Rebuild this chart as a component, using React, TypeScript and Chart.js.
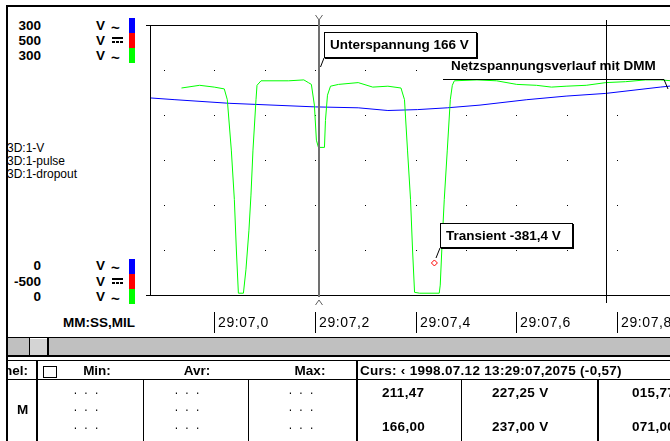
import React, { useEffect, useRef } from "react";
import { Chart, registerables } from "chart.js";
Chart.register(...registerables);

// ---- data (time in seconds within minute 13:29, values in V) ----
const greenTimes = [6.935, 6.971, 7.0, 7.02, 7.026, 7.034, 7.04, 7.044, 7.048, 7.058, 7.063, 7.069, 7.073, 7.077, 7.083, 7.085, 7.093, 7.148, 7.178, 7.187, 7.193, 7.199, 7.203, 7.207, 7.219, 7.221, 7.225, 7.231, 7.247, 7.286, 7.315, 7.345, 7.371, 7.378, 7.384, 7.39, 7.394, 7.398, 7.408, 7.447, 7.449, 7.453, 7.457, 7.463, 7.469, 7.473, 7.477, 7.522, 7.561, 7.601, 7.64, 7.67, 7.699, 7.739, 7.778, 7.817, 7.857, 7.886, 7.955];
const greenValues = [230, 233, 231, 229, 217, 161, 106, 50, 2, 2, 28, 72, 111, 161, 217, 233, 238, 238, 239, 236, 234, 211, 172, 164, 164, 194, 222, 232, 234, 236, 231, 232, 230, 217, 161, 106, 50, 3, 2, 2, 11, 61, 106, 161, 217, 233, 238, 239, 238, 234, 233, 231, 232, 233, 236, 237, 239, 239, 236];
const blueTimes = [6.872, 6.922, 7.03, 7.201, 7.286, 7.345, 7.404, 7.463, 7.528, 7.621, 7.699, 7.778, 7.886, 7.955];
const blueValues = [219, 217, 213, 209, 208, 205, 206, 208, 211, 217, 221, 224, 231, 235];
const pulseTimes = [7.4374];
const pulseValues = [-381.4];

const gridTimes = [6.9, 7.0, 7.1, 7.2, 7.3, 7.4, 7.5, 7.6, 7.7, 7.8];
const gridValues = [50, 100, 150, 200, 250];
const tickTimes = [7.0, 7.2, 7.4, 7.6, 7.8];
const tickLabels = ["29:07,0", "29:07,2", "29:07,4", "29:07,6", "29:07,8"];
const cursorTime = 7.2075;
const cursor2Time = 7.778;
const X_MIN = 6.87244;
const X_MAX = 7.9551;

const FONT = "'Liberation Sans', Arial, sans-serif";
const OX = 140;
const OY = 8;

type TP = { x: number; y: number; children: React.ReactNode; size?: number; bold?: boolean; align?: "left" | "right" | "center"; ls?: number };
function Txt({ x, y, children, size = 13.5, bold = true, align = "left", ls = 0 }: TP) {
  const tx = align === "left" ? "0" : align === "right" ? "-100%" : "-50%";
  return (
    <div style={{ position: "absolute", left: x, top: y, transform: `translate(${tx},-50%)`, fontFamily: FONT, fontSize: size, fontWeight: bold ? 700 : 400, whiteSpace: "nowrap", lineHeight: 1, letterSpacing: ls, color: "#000" }}>
      {children}
    </div>
  );
}
function R({ x, y, w, h, bg = "#000" }: { x: number; y: number; w: number; h: number; bg?: string }) {
  return <div style={{ position: "absolute", left: x, top: y, width: w, height: h, background: bg }} />;
}
function DC({ x, y }: { x: number; y: number }) {
  return (
    <>
      <R x={x} y={y} w={11} h={2} />
      <R x={x} y={y + 4} w={3} h={2} />
      <R x={x + 4} y={y + 4} w={3} h={2} />
      <R x={x + 8} y={y + 4} w={3} h={2} />
    </>
  );
}

export default function App() {
  const ref = useRef<HTMLCanvasElement>(null);
  useEffect(() => {
    const canvas = ref.current!;
    const overlay = {
      id: "overlay",
      beforeDatasetsDraw(chart: any) {
        const ctx = chart.ctx;
        const xs = chart.scales.x, ys = chart.scales.y;
        ctx.save();
        ctx.translate(-OX, -OY);
        ctx.fillStyle = "#000";
        for (const t of gridTimes) for (const v of gridValues) {
          ctx.fillRect(Math.round(xs.getPixelForValue(t) + OX), Math.round(ys.getPixelForValue(v) + OY), 1, 1);
        }
        ctx.restore();
      },
      afterDatasetsDraw(chart: any) {
        const ctx = chart.ctx;
        const xs = chart.scales.x, ys2 = chart.scales.y2;
        const a = chart.chartArea;
        const L = a.left + OX, T = a.top + OY, B = a.bottom + OY;
        ctx.save();
        ctx.translate(-OX, -OY);
        const line = (x1: number, y1: number, x2: number, y2: number, c = "#000", w = 1) => {
          ctx.strokeStyle = c; ctx.lineWidth = w; ctx.beginPath(); ctx.moveTo(x1, y1); ctx.lineTo(x2, y2); ctx.stroke();
        };
        // frame
        line(L - 4, T + 0.5, 700, T + 0.5);
        line(L - 4, B + 0.5, 700, B + 0.5);
        line(L + 0.5, T, L + 0.5, B);
        // second cursor
        const c2 = Math.round(xs.getPixelForValue(cursor2Time) + OX) + 0.5;
        line(c2, 20, c2, 303);
        // cursor
        const cx = Math.round(xs.getPixelForValue(cursorTime) + OX);
        line(cx, 20, cx, 297, "#707070", 2);
        line(cx - 3.5, 15, cx, 20, "#606060");
        line(cx + 3.5, 15, cx, 20, "#606060");
        line(cx - 3.5, 305, cx, 300, "#606060");
        line(cx + 3.5, 305, cx, 300, "#606060");
        // ticks
        ctx.font = `14px ${FONT}`;
        (ctx as any).letterSpacing = "0.6px";
        ctx.textBaseline = "middle";
        ctx.fillStyle = "#000";
        tickTimes.forEach((t, i) => {
          const x = Math.round(xs.getPixelForValue(t) + OX) + 0.5;
          line(x, 312, x, 333);
          ctx.fillText(tickLabels[i], x + 3.5, 323);
        });
        (ctx as any).letterSpacing = "0px";
        const box = (x: number, y: number, w: number, h: number, text: string) => {
          ctx.fillStyle = "#fff";
          ctx.fillRect(x, y, w, h);
          ctx.strokeStyle = "#000"; ctx.lineWidth = 1;
          ctx.strokeRect(x + 0.5, y + 0.5, w - 1, h - 1);
          line(x + w + 0.5, y + 1, x + w + 0.5, y + h + 1);
          line(x + 1, y + h + 0.5, x + w + 1, y + h + 0.5);
          ctx.fillStyle = "#000";
          ctx.font = `bold 13.5px ${FONT}`;
          ctx.textBaseline = "middle";
          ctx.fillText(text, x + 6, y + h / 2 + 0.5);
        };
        // Unterspannung annotation
        box(cx + 5, 32, 153, 26, "Unterspannung 166 V");
        line(cx + 5, 58, cx + 1.5, 67);
        // Transient annotation
        const ppx = Math.round(xs.getPixelForValue(pulseTimes[0]) + OX);
        const ppy = Math.round(ys2.getPixelForValue(pulseValues[0]) + OY);
        box(ppx + 6, ppy - 40, 133, 25, "Transient -381,4 V");
        line(ppx + 6, ppy - 15, ppx + 2, ppy - 5);
        // Netzspannung annotation
        ctx.fillStyle = "#000";
        ctx.font = `bold 13.5px ${FONT}`;
        ctx.textBaseline = "middle";
        ctx.fillText("Netzspannungsverlauf mit DMM", 451, 66);
        line(443, 79.5, 664, 79.5);
        line(664, 79.5, 668, 89);
        ctx.restore();
      },
    };
    const chart = new Chart(canvas, {
      type: "line",
      data: {
        datasets: [
          { label: "3D:1-pulse", data: pulseTimes.map((t, i) => ({ x: t, y: pulseValues[i] })), yAxisID: "y2", showLine: false, pointStyle: "rectRot", pointRadius: 3, borderColor: "#ff0000", backgroundColor: "rgba(0,0,0,0)", borderWidth: 1, order: -1 } as any,
          { label: "3D:1-dropout", data: greenTimes.map((t, i) => ({ x: t, y: greenValues[i] })), yAxisID: "y", borderColor: "#00ff00", borderWidth: 1, pointRadius: 0, tension: 0, fill: false, order: 0 },
          { label: "3D:1-V", data: blueTimes.map((t, i) => ({ x: t, y: blueValues[i] })), yAxisID: "y", borderColor: "#0000ff", borderWidth: 1, pointRadius: 0, tension: 0, fill: false, order: 1 },
        ],
      },
      options: {
        responsive: false,
        animation: false,
        devicePixelRatio: 1,
        events: [],
        layout: { padding: { left: 10, right: 0, top: 17, bottom: 43 } },
        scales: {
          x: { type: "linear", min: X_MIN, max: X_MAX, display: false },
          y: { min: 0, max: 300, display: false },
          y2: { min: -500, max: 500, display: false },
        },
        plugins: { legend: { display: false }, tooltip: { enabled: false } },
      },
      plugins: [overlay],
    });
    return () => chart.destroy();
  }, []);

  return (
    <div style={{ position: "absolute", left: 0, top: 0, width: 670, height: 441, overflow: "hidden", background: "#fff" }}>
      <canvas ref={ref} width={560} height={330} style={{ position: "absolute", left: OX, top: OY, width: 560, height: 330 }} />
      {/* outer frame */}
      <R x={6} y={5} w={664} h={2} />
      <R x={6} y={5} w={2} h={436} />
      {/* scale legend top */}
      <Txt x={41} y={26} align="right">300</Txt>
      <Txt x={41} y={41} align="right">500</Txt>
      <Txt x={41} y={56} align="right">300</Txt>
      <Txt x={96} y={26}>V</Txt>
      <Txt x={96} y={41}>V</Txt>
      <Txt x={96} y={56}>V</Txt>
      <Txt x={111} y={27} size={15}>~</Txt>
      <DC x={112} y={37} />
      <Txt x={111} y={57} size={15}>~</Txt>
      <R x={129} y={18} w={6} h={15} bg="#0000ff" />
      <R x={129} y={33} w={6} h={15} bg="#ff0000" />
      <R x={129} y={48} w={6} h={15} bg="#00ff00" />
      {/* channel names */}
      <Txt x={7} y={148} size={12} bold={false}>3D:1-V</Txt>
      <Txt x={7} y={161} size={12} bold={false}>3D:1-pulse</Txt>
      <Txt x={7} y={174} size={12} bold={false}>3D:1-dropout</Txt>
      {/* scale legend bottom */}
      <Txt x={41} y={266} align="right">0</Txt>
      <Txt x={41} y={282} align="right">-500</Txt>
      <Txt x={41} y={297} align="right">0</Txt>
      <Txt x={96} y={266}>V</Txt>
      <Txt x={96} y={282}>V</Txt>
      <Txt x={96} y={297}>V</Txt>
      <Txt x={111} y={267} size={15}>~</Txt>
      <DC x={112} y={278} />
      <Txt x={111} y={298} size={15}>~</Txt>
      <R x={129} y={259} w={6} h={15} bg="#0000ff" />
      <R x={129} y={274} w={6} h={15} bg="#ff0000" />
      <R x={129} y={289} w={6} h={15} bg="#00ff00" />
      {/* x axis unit */}
      <Txt x={63} y={323}>MM:SS,MIL</Txt>
      {/* scrollbar */}
      <R x={8} y={337} w={662} h={20} bg="#c0c0c0" />
      <R x={8} y={337} w={662} h={1} />
      <R x={8} y={355} w={662} h={2} />
      <R x={29} y={338} w={20} h={17} bg="#d4d4d4" />
      <R x={29} y={338} w={1} h={17} />
      <R x={47} y={338} w={2} h={17} />
      <R x={30} y={338} w={17} h={1} bg="#fff" />
      {/* table */}
      <R x={8} y={360} w={662} h={1} />
      <R x={8} y={379} w={662} h={1} />
      <R x={36} y={360} w={2} h={81} />
      <R x={143} y={379} w={1} h={62} />
      <R x={248} y={379} w={1} h={62} />
      <R x={356} y={360} w={2} h={81} />
      <R x={461} y={379} w={1} h={62} />
      <R x={597} y={379} w={2} h={62} />
      <div style={{ position: "absolute", left: 43, top: 366, width: 12, height: 10, border: "1px solid #000", background: "#fff" }} />
      <div style={{ position: "absolute", left: 8, top: 360, width: 28, height: 20, overflow: "hidden" }}>
        <Txt x={20} y={11} align="right">Channel:</Txt>
      </div>
      <Txt x={97} y={371} align="center">Min:</Txt>
      <Txt x={197} y={371} align="center">Avr:</Txt>
      <Txt x={310} y={371} align="center">Max:</Txt>
      <Txt x={360} y={371} ls={0.3}>Curs: ‹ 1998.07.12 13:29:07,2075 (-0,57)</Txt>
      <Txt x={17} y={410}>M</Txt>
      {[393, 410, 428].map((y) => (
        <React.Fragment key={y}>
          <Txt x={87} y={y - 3} align="center" size={12} bold={false} ls={2}>. . .</Txt>
          <Txt x={188} y={y - 3} align="center" size={12} bold={false} ls={2}>. . .</Txt>
          <Txt x={302} y={y - 3} align="center" size={12} bold={false} ls={2}>. . .</Txt>
        </React.Fragment>
      ))}
      <Txt x={382} y={393} ls={0.3}>211,47</Txt>
      <Txt x={492} y={393} ls={0.3}>227,25  V</Txt>
      <Txt x={632} y={393} ls={0.3}>015,77</Txt>
      <Txt x={382} y={427} ls={0.3}>166,00</Txt>
      <Txt x={492} y={427} ls={0.3}>237,00  V</Txt>
      <Txt x={632} y={427} ls={0.3}>071,00</Txt>
    </div>
  );
}
